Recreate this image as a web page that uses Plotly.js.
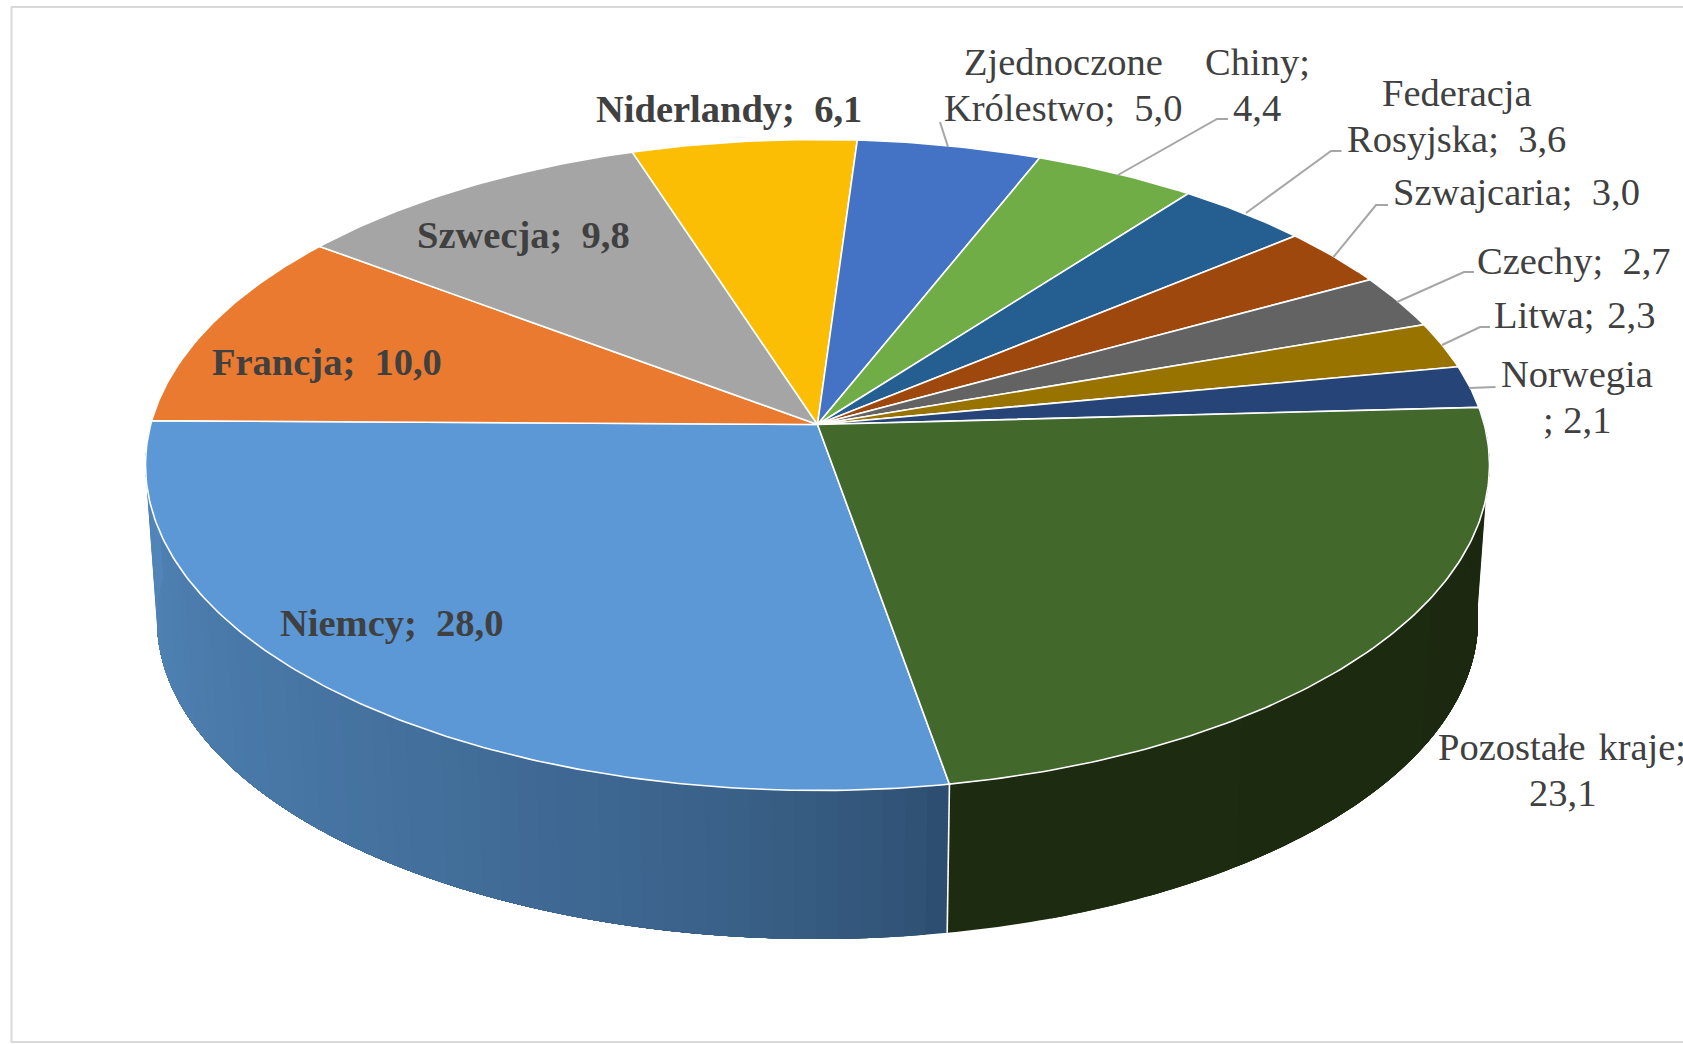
<!DOCTYPE html>
<html><head><meta charset="utf-8">
<script src="https://cdn.plot.ly/plotly-3.0.1.min.js"></script>
<style>html,body{margin:0;padding:0;background:#fff;overflow:hidden}</style>
</head><body><div id="chart" style="width:1683px;height:1044px"></div>
<script>
// --- data ---
const categories = ["Niemcy","Francja","Szwecja","Niderlandy","Zjednoczone Królestwo","Chiny","Federacja Rosyjska","Szwajcaria","Czechy","Litwa","Norwegia","Pozostałe kraje"];
const values = [28.0,10.0,9.8,6.1,5.0,4.4,3.6,3.0,2.7,2.3,2.1,23.1];
const colors = ["#5B98D5","#EA7A30","#A5A5A5","#FBBE04","#4472C4","#70AD47","#255E91","#9E480E","#636363","#997300","#264478","#43682B"];

// --- drawing geometry (pie seen in perspective) ---
const START_DEG = 170, PERSP = 0.1244;
const TOP = {cx:817.5, cy:465, W:672, H:325.5};
const BASE = {cx:817.5, cy:620, W:660.5, H:319};
function project(e, deg){
  const a = deg*Math.PI/180, u = Math.sin(a), v = -Math.cos(a), k = PERSP;
  const d = 1 - k*v;
  return [e.cx + e.W*Math.sqrt(1-k*k)*u/d, e.cy - e.H*k + e.H*(1-k*k)*v/d];
}
const total = values.reduce((a,b)=>a+b,0);
const spans = []; let acc = START_DEG;
values.forEach(v=>{const s=acc, e=acc+v/total*360; spans.push([s,e]); acc=e;});

function mix(c1,c2,t){const r=c1.map((c,i)=>Math.round(c+(c2[i]-c)*t)); return `rgb(${r.join(',')})`;}
function poly(xy,fill,line,w){return {x:xy.map(p=>p[0]),y:xy.map(p=>p[1]),mode:'lines',fill:'toself',fillcolor:fill,line:{color:line,width:w},hoverinfo:'skip',showlegend:false};}
function arc(e,s,t,n){const o=[];for(let i=0;i<=n;i++)o.push(project(e,s+(t-s)*i/n));return o;}

const traces = [];
// side wall: painted strip over strip, each reaching to the end of the span, so no seams show
function wall(from, to, c1, c2, n, gamma){
  for(let i=0;i<n;i++){
    const a=from+(to-from)*i/n;
    const m=Math.max(3,Math.ceil(Math.abs(to-a)*1.5));
    const pts=arc(TOP,a,to,m).concat(arc(BASE,a,to,m).reverse());
    const col=mix(c1,c2,Math.pow((i+0.5)/n,gamma));
    traces.push({x:pts.map(p=>p[0]),y:pts.map(p=>p[1]),mode:'none',fill:'toself',fillcolor:col,hoverinfo:'skip',showlegend:false});
  }
}
const niemcyWall=spans[0], restWall=spans[11];
wall(restWall[1],Math.max(restWall[0],88),[29,44,17],[27,40,15],10,1);
wall(niemcyWall[0],Math.min(niemcyWall[1],272),[42,74,106],[82,134,186],60,0.55);
// white seam between the two wall pieces
const seamT=project(TOP,START_DEG), seamB=project(BASE,START_DEG);
traces.push({x:[seamT[0],seamB[0]],y:[seamT[1],seamB[1]],mode:'lines',line:{color:'#fff',width:1.6},hoverinfo:'skip',showlegend:false});
// top face
const apex=[TOP.cx,TOP.cy-TOP.H*PERSP];
spans.forEach((sp,i)=>{
  const n=Math.max(8,Math.ceil((sp[1]-sp[0])*1.5));
  traces.push(poly([apex].concat(arc(TOP,sp[0],sp[1],n),[apex]),colors[i],'#ffffff',1.6));
});

// --- labels ---
const fmt=v=>v.toFixed(1).replace('.',',');
const NB='\u00a0', HAIR='\u200a';
const labelSpec=[
 {i:0,x:391,y:623,b:1,lines:[`${categories[0]};${NB}${NB}${fmt(values[0])}`]},
 {i:1,x:327,y:362,b:1,lines:[`${categories[1]};${NB}${NB}${fmt(values[1])}`]},
 {i:2,x:523,y:235,b:1,lines:[`${categories[2]};${NB}${NB}${fmt(values[2])}`]},
 {i:3,x:729,y:108.5,b:1,lines:[`${categories[3]};${NB}${NB}${fmt(values[3])}`]},
 {i:4,x:1063,y:85,lines:["Zjednoczone",`Królestwo;${NB}${NB}${fmt(values[4])}`]},
 {i:5,x:1257,y:85,lines:[`${categories[5]};`,fmt(values[5])]},
 {i:6,x:1456.5,y:116,lines:["Federacja",`Rosyjska;${NB}${NB}${fmt(values[6])}`]},
 {i:7,x:1516,y:191.5,lines:[`${categories[7]};${NB}${NB}${fmt(values[7])}`]},
 {i:8,x:1574,y:261,lines:[`${categories[8]};${NB}${NB}${fmt(values[8])}`]},
 {i:9,x:1574.5,y:315,lines:[`${categories[9]};${NB}${HAIR}${fmt(values[9])}`]},
 {i:10,x:1577,y:397,lines:[categories[10],`;${NB}${fmt(values[10])}`]},
 {i:11,x:1562,y:770,lines:[`Pozostałe${NB}${HAIR}kraje;`,fmt(values[11])]}
];
const LINE_STEP=46.5, FONT_SIZE=38.5;
const annotations=[];
labelSpec.forEach(l=>{
  l.lines.forEach((t,j)=>{
    annotations.push({xref:'x',yref:'y',x:l.x,y:l.y+(j-(l.lines.length-1)/2)*LINE_STEP,
      text:l.b?`<b>${t}</b>`:t,showarrow:false,xanchor:'center',yanchor:'middle',
      font:{family:'"Liberation Serif",serif',size:FONT_SIZE,color:'#404040'}});
  });
});

// leader lines + chart frame
const leaders=[
 [[940,122],[948,147]],
 [[1228,119],[1217,119],[1118,175]],
 [[1341.5,151],[1331,151],[1246,213]],
 [[1388,205],[1376,205],[1333.5,257]],
 [[1474,272],[1464,272],[1397,302]],
 [[1490,327],[1480,327],[1442,345]],
 [[1495.5,387],[1469,388]]
];
const shapes=[{type:'rect',xref:'x',yref:'y',x0:11.5,x1:1700,y0:7,y1:1042,line:{color:'#D9D9D9',width:2},fillcolor:'rgba(0,0,0,0)',layer:'below'}];
leaders.forEach(pts=>{
  shapes.push({type:'path',xref:'x',yref:'y',path:'M'+pts.map(p=>p.join(',')).join(' L'),line:{color:'#A6A6A6',width:2},layer:'above'});
});

const hidden={visible:false,fixedrange:true};
Plotly.newPlot('chart',traces,{
  width:1683,height:1044,margin:{l:0,r:0,t:0,b:0},
  paper_bgcolor:'#fff',plot_bgcolor:'#fff',showlegend:false,
  xaxis:Object.assign({range:[0,1683],domain:[0,1]},hidden),
  yaxis:Object.assign({range:[1044,0],domain:[0,1]},hidden),
  annotations,shapes
},{displayModeBar:false,staticPlot:true});
</script></body></html>
